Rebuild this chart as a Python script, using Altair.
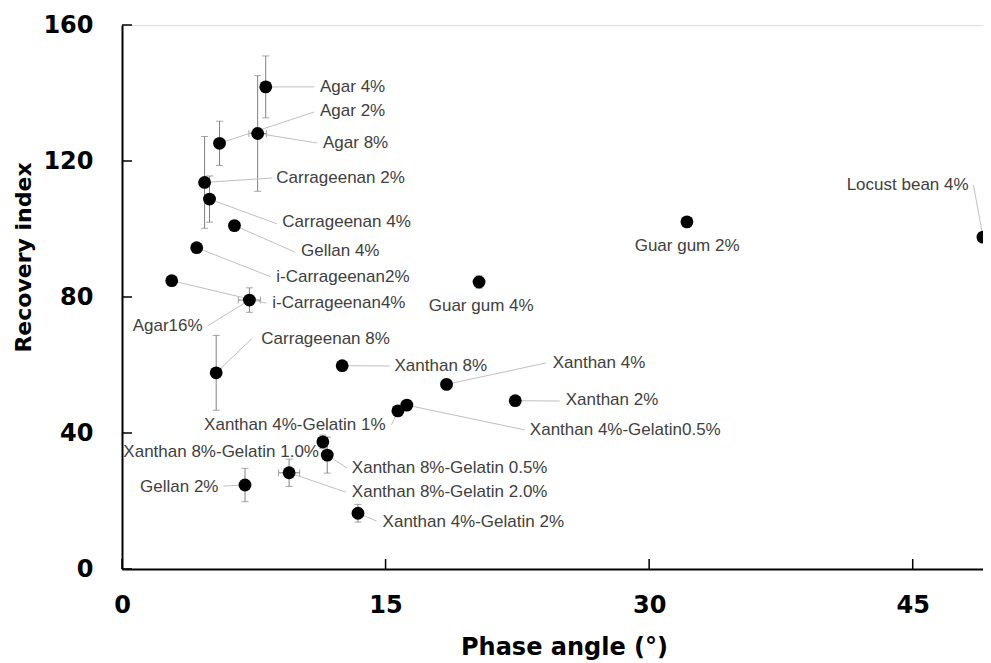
import altair as alt
import pandas as pd

# ---- data ----
names = ["Agar 4%", "Agar 2%", "Agar 8%", "Carrageenan 2%", "Carrageenan 4%", "Gellan 4%",
         "i-Carrageenan2%", "i-Carrageenan4%", "Agar16%", "Carrageenan 8%", "Xanthan 8%",
         "Xanthan 4%", "Xanthan 2%", "Xanthan 4%-Gelatin0.5%", "Xanthan 4%-Gelatin 1%",
         "Xanthan 8%-Gelatin 1.0%", "Xanthan 8%-Gelatin 0.5%", "Xanthan 8%-Gelatin 2.0%",
         "Gellan 2%", "Xanthan 4%-Gelatin 2%", "Guar gum 4%", "Guar gum 2%", "Locust bean 4%"]
phase = [8.18, 5.55, 7.72, 4.70, 4.98, 6.40, 4.25, 2.83, 7.25, 5.36, 12.53,
         18.47, 22.38, 16.21, 15.70, 11.43, 11.68, 9.51, 7.00, 13.43, 20.32, 32.15, 49.0]
recovery = [141.8, 125.2, 128.1, 113.7, 108.8, 101.0, 94.5, 84.8, 79.1, 57.7, 59.8,
            54.3, 49.5, 48.2, 46.5, 37.4, 33.5, 28.3, 24.7, 16.4, 84.4, 102.1, 97.6]
y_err = [9.1, 6.5, 17.0, 13.5, 6.8, 0, 0, 0, 3.6, 11.0, 0,
         1.5, 0, 0, 0, 2.0, 5.3, 4.0, 4.9, 2.6, 1.8, 0, 0]
x_err = [0, 0, 0.5, 0, 0, 0, 0, 0, 0.63, 0, 0,
         0, 0, 0, 0, 0, 0, 0.6, 0, 0, 0, 0, 0]

# label anchor (data units), leader-line end (data units), alignment
label_x = [11.27, 11.27, 11.44, 8.78, 9.12, 10.19, 8.78, 8.55, 4.59, 7.93, 15.51,
           24.51, 25.25, 23.21, 15.00, 11.21, 13.08, 13.08, 5.49, 14.83, 20.44, 32.16, 48.18]
label_y = [141.8, 134.7, 125.3, 115.0, 102.1, 93.5, 85.9, 78.2, 71.5, 67.6, 59.7,
           60.6, 49.7, 40.9, 42.4, 34.4, 29.7, 22.6, 24.1, 13.8, 77.4, 95.0, 112.9]
lead_x = [10.93, 10.93, 11.10, 8.55, 8.83, 9.85, 8.49, 8.21, 4.87, 7.42, 15.23,
          24.12, 24.91, 22.93, 15.34, 11.43, 12.80, 12.74, 5.77, 14.49, 20.32, 32.15, 48.46]
lead_y = [141.8, 134.4, 125.3, 115.0, 101.5, 93.2, 85.9, 78.2, 71.5, 67.9, 59.7,
          60.6, 49.4, 40.9, 42.4, 37.4, 29.7, 22.6, 24.4, 14.1, 84.4, 102.1, 112.9]
label_align = ["left", "left", "left", "left", "left", "left", "left", "left", "right", "left", "left",
               "left", "left", "left", "right", "right", "left", "left", "right", "left",
               "center", "center", "right"]

x_ticks = [0, 15, 30, 45]
y_ticks = [0, 40, 80, 120, 160]

df = pd.DataFrame({
    "name": names, "phase": phase, "rec": recovery, "yerr": y_err, "xerr": x_err,
    "lx": label_x, "ly": label_y, "ex": lead_x, "ey": lead_y, "align": label_align,
})
df["ylo"] = df["rec"] - df["yerr"]
df["yhi"] = df["rec"] + df["yerr"]
df["xlo"] = df["phase"] - df["xerr"]
df["xhi"] = df["phase"] + df["xerr"]

ydf = df[df["yerr"] > 0]
xdf = df[df["xerr"] > 0]

W, H = 861, 544
xs = alt.Scale(domain=[0, 49.0], nice=False, zero=False)
ys = alt.Scale(domain=[0, 160], nice=False)

AX_FONT = "DejaVu Sans"
LBL_FONT = "Liberation Sans"
ERR = "#808080"

base = alt.Chart(df)

# invisible layer carrying the axes
axes_layer = base.mark_point(opacity=0).encode(
    x=alt.X("phase:Q", scale=xs, axis=alt.Axis(
        values=x_ticks, title="Phase angle (°)", grid=False, ticks=False, tickSize=0,
        domainColor="black", domainWidth=2, labelFont=AX_FONT, labelFontWeight="bold",
        labelFontSize=24, labelColor="black", labelPadding=24, labelFlush=False,
        titleFont=AX_FONT, titleFontWeight="bold", titleFontSize=24, titleColor="black",
        titleX=442, titleY=78, titleBaseline="middle", titleAnchor="middle")),
    y=alt.Y("rec:Q", scale=ys, axis=alt.Axis(
        values=y_ticks, title="Recovery index", grid=False, ticks=False, tickSize=0,
        domainColor="black", domainWidth=2, labelFont=AX_FONT, labelFontWeight="bold",
        labelFontSize=24, labelColor="black", labelPadding=29, labelFlush=False,
        titleFont=AX_FONT, titleFontWeight="bold", titleFontSize=22, titleColor="black",
        titleX=-99, titleY=232, titleBaseline="middle", titleAlign="center", titleAngle=-90)),
)

# inward tick marks
xt = alt.Chart(pd.DataFrame({"t": x_ticks})).mark_rule(color="black", strokeWidth=1.5).encode(
    x=alt.X("t:Q", scale=xs), y=alt.value(H), y2=alt.value(H - 10))
yt = alt.Chart(pd.DataFrame({"t": y_ticks})).mark_rule(color="black", strokeWidth=1.5).encode(
    y=alt.Y("t:Q", scale=ys), x=alt.value(0), x2=alt.value(10))

# error bars
ybar = alt.Chart(ydf).mark_rule(color=ERR, strokeWidth=1).encode(
    x=alt.X("phase:Q", scale=xs), y=alt.Y("ylo:Q", scale=ys), y2="yhi:Q")
ycap_lo = alt.Chart(ydf).mark_tick(orient="horizontal", size=7, thickness=1, color=ERR).encode(
    x=alt.X("phase:Q", scale=xs), y=alt.Y("ylo:Q", scale=ys))
ycap_hi = alt.Chart(ydf).mark_tick(orient="horizontal", size=7, thickness=1, color=ERR).encode(
    x=alt.X("phase:Q", scale=xs), y=alt.Y("yhi:Q", scale=ys))
xbar = alt.Chart(xdf).mark_rule(color=ERR, strokeWidth=1).encode(
    y=alt.Y("rec:Q", scale=ys), x=alt.X("xlo:Q", scale=xs), x2="xhi:Q")
xcap_lo = alt.Chart(xdf).mark_tick(orient="vertical", size=7, thickness=1, color=ERR).encode(
    x=alt.X("xlo:Q", scale=xs), y=alt.Y("rec:Q", scale=ys))
xcap_hi = alt.Chart(xdf).mark_tick(orient="vertical", size=7, thickness=1, color=ERR).encode(
    x=alt.X("xhi:Q", scale=xs), y=alt.Y("rec:Q", scale=ys))

# leader lines
leaders = base.mark_rule(color="#bfbfbf", strokeWidth=1).encode(
    x=alt.X("phase:Q", scale=xs), y=alt.Y("rec:Q", scale=ys), x2="ex:Q", y2="ey:Q")

points = base.mark_circle(size=165, color="black", opacity=1).encode(
    x=alt.X("phase:Q", scale=xs), y=alt.Y("rec:Q", scale=ys))


def labels(al):
    return base.transform_filter(alt.datum.align == al).mark_text(
        align=al, baseline="middle", font=LBL_FONT, fontSize=17, color="#404040").encode(
        x=alt.X("lx:Q", scale=xs), y=alt.Y("ly:Q", scale=ys), text="name:N")


chart = alt.layer(
    axes_layer, xt, yt, ybar, ycap_lo, ycap_hi, xbar, xcap_lo, xcap_hi, leaders, points,
    labels("left"), labels("right"), labels("center"),
).properties(
    width=W, height=H,
    autosize=alt.AutoSizeParams(type="none"),
    padding={"left": 114, "top": 17, "right": 0, "bottom": 94},
).configure_view(stroke=None).configure(background="white")

chart.save("out.html", embed_options={"renderer": "svg", "actions": False})
